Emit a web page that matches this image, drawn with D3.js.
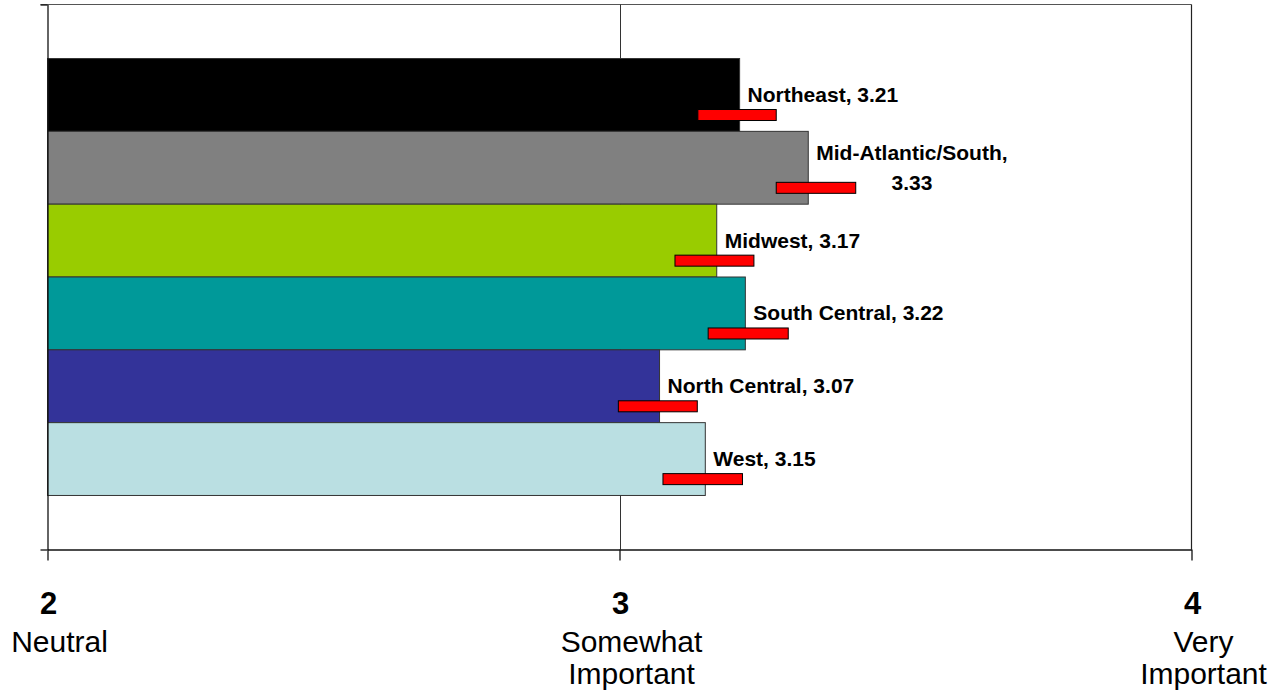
<!DOCTYPE html>
<html>
<head>
<meta charset="utf-8">
<script src="https://cdn.jsdelivr.net/npm/d3@7"></script>
<style>
  html, body { margin: 0; padding: 0; background: #fff; }
  svg { display: block; font-family: "Liberation Sans", Arial, sans-serif; }
</style>
</head>
<body>
<svg id="chart" width="1284" height="696"></svg>
<script>
// Regional mean importance ratings with their interval ranges
const regions = ["Northeast", "Mid-Atlantic/South", "Midwest", "South Central", "North Central", "West"];
const means   = [3.21, 3.33, 3.17, 3.22, 3.07, 3.15];
const lower   = [3.137, 3.274, 3.097, 3.155, 2.998, 3.076];
const upper   = [3.274, 3.413, 3.235, 3.295, 3.136, 3.215];
const barColors = ["#000000", "#808080", "#99CC00", "#009999", "#333399", "#BADFE2"];

// Rating scale ticks and their verbal anchors
const tickValues = [2, 3, 4];
const tickNames  = [["Neutral"], ["Somewhat", "Important"], ["Very", "Important"]];

const svg = d3.select("#chart");
const plot = { left: 47.5, right: 1191.5, top: 4.5, bottom: 549.5 };

const x = d3.scaleLinear().domain([2, 4]).range([plot.left, plot.right]);
const y = d3.scaleBand().domain(regions)
  .range([plot.top, plot.bottom])
  .paddingInner(0)
  .paddingOuter(0.742);

// plot frame (top and right edges)
svg.append("line")
  .attr("x1", plot.left - 7).attr("x2", plot.right)
  .attr("y1", plot.top).attr("y2", plot.top)
  .attr("stroke", "#555").attr("stroke-width", 1.2);
svg.append("line")
  .attr("x1", plot.right).attr("x2", plot.right)
  .attr("y1", plot.top).attr("y2", plot.bottom)
  .attr("stroke", "#222").attr("stroke-width", 1.2);

// vertical gridlines at interior ticks
svg.append("g").selectAll("line")
  .data(tickValues.filter(d => d > 2 && d < 4))
  .join("line")
  .attr("x1", d => Math.round(x(d)) + 0.5).attr("x2", d => Math.round(x(d)) + 0.5)
  .attr("y1", plot.top).attr("y2", plot.bottom)
  .attr("stroke", "#333").attr("stroke-width", 1);

// bars
svg.append("g").selectAll("rect")
  .data(regions)
  .join("rect")
  .attr("x", plot.left)
  .attr("y", d => y(d))
  .attr("width", (d, i) => x(means[i]) - plot.left)
  .attr("height", y.bandwidth())
  .attr("fill", (d, i) => barColors[i])
  .attr("stroke", "#333")
  .attr("stroke-width", 1);

// interval markers
const markH = 11;
svg.append("g").selectAll("rect")
  .data(regions)
  .join("rect")
  .attr("x", (d, i) => x(lower[i]))
  .attr("y", d => y(d) + y.bandwidth() * 0.70)
  .attr("width", (d, i) => x(upper[i]) - x(lower[i]))
  .attr("height", markH)
  .attr("fill", "#FF0000")
  .attr("stroke", "#000")
  .attr("stroke-width", 1);

// bar labels, wrapped and centred when too wide
const maxLabelW = 200;
const lineH = 30;
const labels = svg.append("g")
  .attr("font-size", 21)
  .attr("font-weight", "bold")
  .attr("fill", "#000");
regions.forEach((r, i) => {
  const txt = `${r}, ${means[i].toFixed(2)}`;
  const x0 = x(means[i]) + 8;
  const cy = y(r) + y.bandwidth() / 2 + 7;
  const t = labels.append("text").attr("x", x0).attr("y", cy).text(txt);
  if (t.node().getComputedTextLength() > maxLabelW) {
    t.remove();
    const parts = [`${r},`, means[i].toFixed(2)];
    const first = labels.append("text").attr("x", x0).attr("y", cy - lineH / 2).text(parts[0]);
    const w = first.node().getComputedTextLength();
    first.remove();
    const cx = x0 + w / 2;
    parts.forEach((p, k) => {
      labels.append("text")
        .attr("x", cx)
        .attr("y", cy - lineH / 2 + k * lineH)
        .attr("text-anchor", "middle")
        .text(p);
    });
  }
});

// left axis: ticks only at the category boundaries
const yEdge = d3.scaleLinear().domain([0, 1]).range([plot.top, plot.bottom]);
svg.append("g")
  .attr("transform", `translate(${plot.left},0)`)
  .call(d3.axisLeft(yEdge).tickValues([0, 1]).tickSize(7).tickSizeOuter(0).tickFormat(""))
  .call(g => g.selectAll("path, line").attr("stroke", "#111").attr("stroke-width", 1.3));

// bottom axis
svg.append("g")
  .attr("transform", `translate(0,${plot.bottom})`)
  .call(d3.axisBottom(x).tickValues(tickValues).tickSize(11).tickSizeOuter(0).tickFormat(""))
  .call(g => g.selectAll("path, line").attr("stroke", "#111").attr("stroke-width", 1.3));

// tick numbers and verbal anchors
const tl = svg.append("g").attr("fill", "#000");
tickValues.forEach((v, i) => {
  tl.append("text")
    .attr("x", x(v) + 1)
    .attr("y", 614)
    .attr("text-anchor", "middle")
    .attr("font-size", 31)
    .attr("font-weight", "bold")
    .text(v);
  tickNames[i].forEach((s, k) => {
    tl.append("text")
      .attr("x", x(v) + 12)
      .attr("y", 652 + k * 32)
      .attr("text-anchor", "middle")
      .attr("font-size", 30)
      .text(s);
  });
});
</script>
</body>
</html>
